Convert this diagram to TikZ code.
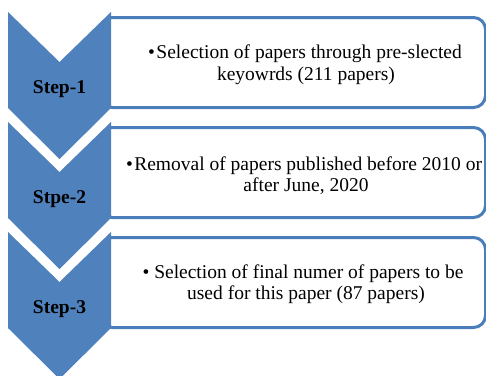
\documentclass[tikz,border=0pt]{standalone}
\usepackage{fontspec}
\setmainfont{Liberation Serif}
\definecolor{chev}{HTML}{4F81BD}
\definecolor{boxblue}{HTML}{4A7EBB}
\tikzset{
  chevfill/.style={fill=chev, draw=none},
  boxline/.style={draw=boxblue, line width=3pt, fill=white, rounded corners=12pt, inner sep=0pt, anchor=north west, minimum width=385pt, minimum height=90pt},
  txt/.style={font=\fontsize{19.5}{22}\selectfont, inner sep=0pt, anchor=base},
  steplbl/.style={font=\fontsize{19.5}{22}\selectfont\bfseries, inner sep=0pt, anchor=base},
}
\begin{document}
\begin{tikzpicture}[x=1pt,y=-1pt]
\useasboundingbox (0,0) rectangle (486,375);
% boxes
\node[boxline] (box1) at (99,16) {};
\node[boxline] (box2) at (99,126) {};
\node[boxline] (box3) at (99,236) {};
% chevrons
\foreach \t [count=\i] in {12,122,232}{
  \path[chevfill] (8,\t) -- (59.5,{\t+50}) -- (111,\t) -- (111,{\t+96}) -- (59.5,{\t+147}) -- (8,{\t+96}) -- cycle;
}
% step labels
\node[steplbl] (s1) at (59.5,93) {Step-1};
\node[steplbl] (s2) at (59.5,203) {Stpe-2};
\node[steplbl] (s3) at (59.5,313) {Step-3};
% texts
\node[txt] (t1a) at (305,58) {•\hspace{1.5pt}Selection of papers through pre-slected};
\node[txt] (t1b) at (306,80) {keyowrds (211 papers)};
\node[txt] (t2a) at (304,170) {•\hspace{1.5pt}Removal of papers published before 2010 or};
\node[txt] (t2b) at (306,191) {after June, 2020};
\node[txt] (t3a) at (303,278) {• Selection of final numer of papers to be};
\node[txt] (t3b) at (306,299) {used for this paper (87 papers)};
\end{tikzpicture}
\end{document}
